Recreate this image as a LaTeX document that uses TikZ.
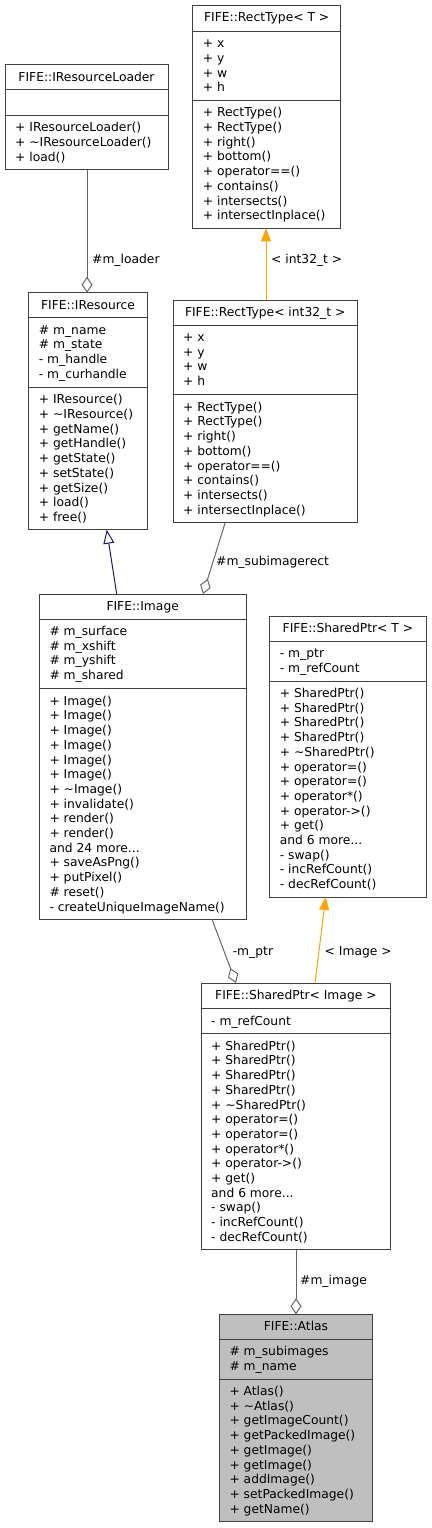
\documentclass[tikz,border=0pt]{standalone}
\usepackage{fontspec}
\setmainfont{DejaVu Sans}
\usetikzlibrary{arrows.meta}
\definecolor{midnight}{HTML}{191970}
\definecolor{dorange}{HTML}{FFA500}
\definecolor{atlasgray}{HTML}{BFBFBF}
\newcommand\st{\rule{0pt}{11pt}}
\newcommand\uf{\fontsize{12.3}{14.7}\selectfont}
\begin{document}
\begin{tikzpicture}[x=1pt,y=-1pt,
  boxline/.style={draw=black!75, line width=1pt},
  umlbox/.style={boxline, rectangle, inner sep=0pt, outer sep=0pt, anchor=north west, fill=white},
  title/.style={anchor=base, inner sep=0pt, font=\uf},
  members/.style={anchor=north west, inner sep=0pt, align=left, font=\uf},
  elabel/.style={anchor=base west, inner sep=0pt, font=\uf},
  usage/.style={draw=black!60, line width=1pt, -{Diamond[open, length=16pt, width=11pt, line width=1pt]}},
  tmpl/.style={draw=dorange, fill=dorange, line width=1pt, -{Triangle[length=13pt,width=10pt]}},
  inherit/.style={draw=midnight, line width=1pt, -{Triangle[open,length=14pt,width=11pt,line width=1pt]}},
]
\useasboundingbox (0,0) rectangle (431,1528);

% ---------- FIFE::RectType< T >
\node[umlbox, minimum width=148pt, minimum height=222.6pt] (rectT) at (192.7,5.7) {};
\node[title] (rectTt) at (266.7,22.0) {FIFE::RectType< T >};
\draw[boxline] (rectT.west |- 0,31.3) -- (rectT.east |- 0,31.3);
\draw[boxline] (rectT.west |- 0,100.3) -- (rectT.east |- 0,100.3);
\node[members] (rectTa) at (202.7,36.6) {\st+ x\\+ y\\+ w\\+ h};
\node[members] (rectTm) at (202.7,105.6) {\st+ RectType()\\+ RectType()\\+ right()\\+ bottom()\\+ operator==()\\+ contains()\\+ intersects()\\+ intersectInplace()};

% ---------- FIFE::IResourceLoader
\node[umlbox, minimum width=163pt, minimum height=104.7pt] (loader) at (5,65) {};
\node[title] (loadert) at (86.5,81.3) {FIFE::IResourceLoader};
\draw[boxline] (loader.west |- 0,89.7) -- (loader.east |- 0,89.7);
\draw[boxline] (loader.west |- 0,115.3) -- (loader.east |- 0,115.3);
\node[members] (loaderm) at (15,120.6) {\st+ IResourceLoader()\\+ \textasciitilde IResourceLoader()\\+ load()};

% ---------- FIFE::IResource
\node[umlbox, minimum width=118.6pt, minimum height=237pt] (ires) at (28.7,292.7) {};
\node[title] (irest) at (88,309) {FIFE::IResource};
\draw[boxline] (ires.west |- 0,317.7) -- (ires.east |- 0,317.7);
\draw[boxline] (ires.west |- 0,387.3) -- (ires.east |- 0,387.3);
\node[members] (iresa) at (38.7,323) {\st\# m\_name\\\# m\_state\\- m\_handle\\- m\_curhandle};
\node[members] (iresm) at (38.7,392.6) {\st+ IResource()\\+ \textasciitilde IResource()\\+ getName()\\+ getHandle()\\+ getState()\\+ setState()\\+ getSize()\\+ load()\\+ free()};

% ---------- FIFE::RectType< int32_t >
\node[umlbox, minimum width=184.3pt, minimum height=222.3pt] (rect32) at (173,300) {};
\node[title] (rect32t) at (265.2,316.3) {FIFE::RectType< int32\_t >};
\draw[boxline] (rect32.west |- 0,325) -- (rect32.east |- 0,325);
\draw[boxline] (rect32.west |- 0,394.7) -- (rect32.east |- 0,394.7);
\node[members] (rect32a) at (183,330.3) {\st+ x\\+ y\\+ w\\+ h};
\node[members] (rect32m) at (183,400) {\st+ RectType()\\+ RectType()\\+ right()\\+ bottom()\\+ operator==()\\+ contains()\\+ intersects()\\+ intersectInplace()};

% ---------- FIFE::Image
\node[umlbox, minimum width=206.7pt, minimum height=325.3pt] (img) at (39.3,594) {};
\node[title] (imgt) at (142.7,610.3) {FIFE::Image};
\draw[boxline] (img.west |- 0,619) -- (img.east |- 0,619);
\draw[boxline] (img.west |- 0,688.7) -- (img.east |- 0,688.7);
\node[members] (imga) at (49.3,624.3) {\st\# m\_surface\\\# m\_xshift\\\# m\_yshift\\\# m\_shared};
\node[members] (imgm) at (49.3,694) {\st+ Image()\\+ Image()\\+ Image()\\+ Image()\\+ Image()\\+ Image()\\+ \textasciitilde Image()\\+ invalidate()\\+ render()\\+ render()\\and 24 more...\\+ saveAsPng()\\+ putPixel()\\\# reset()\\- createUniqueImageName()};

% ---------- FIFE::SharedPtr< T >
\node[umlbox, minimum width=156.3pt, minimum height=281pt] (spt) at (269.7,616) {};
\node[title] (sptt) at (347.9,632.3) {FIFE::SharedPtr< T >};
\draw[boxline] (spt.west |- 0,641) -- (spt.east |- 0,641);
\draw[boxline] (spt.west |- 0,681) -- (spt.east |- 0,681);
\node[members] (spta) at (279.7,646.3) {\st- m\_ptr\\- m\_refCount};
\node[members] (sptm) at (279.7,686.3) {\st+ SharedPtr()\\+ SharedPtr()\\+ SharedPtr()\\+ SharedPtr()\\+ \textasciitilde SharedPtr()\\+ operator=()\\+ operator=()\\+ operator*()\\+ operator->()\\+ get()\\and 6 more...\\- swap()\\- incRefCount()\\- decRefCount()};

% ---------- FIFE::SharedPtr< Image >
\node[umlbox, minimum width=189.7pt, minimum height=266.7pt] (spi) at (201,983) {};
\node[title] (spit) at (295.9,999.3) {FIFE::SharedPtr< Image >};
\draw[boxline] (spi.west |- 0,1008.7) -- (spi.east |- 0,1008.7);
\draw[boxline] (spi.west |- 0,1033.7) -- (spi.east |- 0,1033.7);
\node[members] (spia) at (211,1014) {\st- m\_refCount};
\node[members] (spim) at (211,1039) {\st+ SharedPtr()\\+ SharedPtr()\\+ SharedPtr()\\+ SharedPtr()\\+ \textasciitilde SharedPtr()\\+ operator=()\\+ operator=()\\+ operator*()\\+ operator->()\\+ get()\\and 6 more...\\- swap()\\- incRefCount()\\- decRefCount()};

% ---------- FIFE::Atlas
\node[umlbox, fill=atlasgray, minimum width=153.4pt, minimum height=207pt] (atlas) at (219.3,1314.3) {};
\node[title] (atlast) at (296,1330.6) {FIFE::Atlas};
\draw[boxline] (atlas.west |- 0,1339.3) -- (atlas.east |- 0,1339.3);
\draw[boxline] (atlas.west |- 0,1379) -- (atlas.east |- 0,1379);
\node[members] (atlasa) at (229.3,1344.6) {\st\# m\_subimages\\\# m\_name};
\node[members] (atlasm) at (229.3,1384.3) {\st+ Atlas()\\+ \textasciitilde Atlas()\\+ getImageCount()\\+ getPackedImage()\\+ getImage()\\+ getImage()\\+ addImage()\\+ setPackedImage()\\+ getName()};

% ---------- connectors
\draw[usage] ([xshift=82pt]loader.south west) -- ([xshift=58.3pt]ires.north west);
\node[elabel] (l1) at (92,263.3) {\#m\_loader};

\draw[tmpl] ([xshift=93pt]rect32.north west) -- ([xshift=73.3pt]rectT.south west);
\node[elabel] (l2) at (271,263.3) {< int32\_t >};

\draw[inherit] ([xshift=77.4pt]img.north west) -- ([xshift=78pt]ires.south west);

\draw[usage] ([xshift=52.3pt]rect32.south west) -- ([xshift=163.7pt]img.north west);
\node[elabel] (l3) at (216,565) {\#m\_subimagerect};

\draw[usage] ([xshift=172.7pt]img.south west) -- ([xshift=35pt]spi.north west);
\node[elabel] (l4) at (232.6,955) {-m\_ptr};

\draw[tmpl] ([xshift=114pt]spi.north west) -- ([xshift=56pt]spt.south west);
\node[elabel] (l5) at (324.5,955) {< Image >};

\draw[usage] ([xshift=95pt]spi.south west) -- ([xshift=76.7pt]atlas.north west);
\node[elabel] (l6) at (300,1284.3) {\#m\_image};
\end{tikzpicture}
\end{document}
